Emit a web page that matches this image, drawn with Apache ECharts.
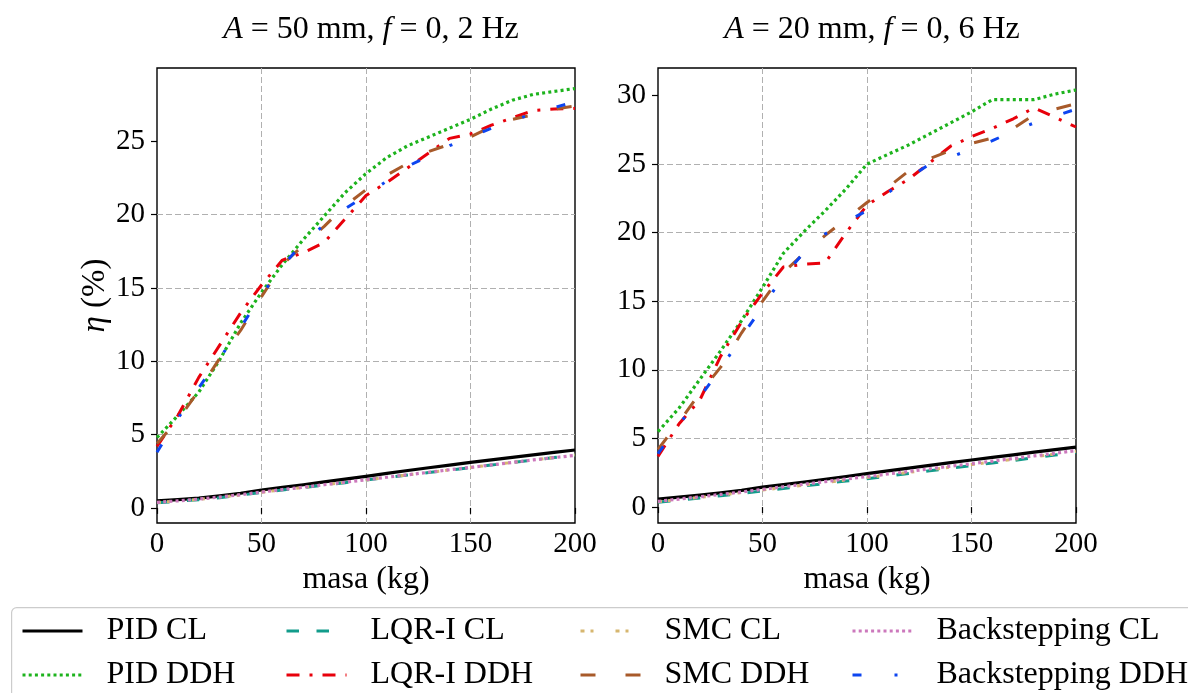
<!DOCTYPE html>
<html><head><meta charset="utf-8">
<script src="https://cdn.jsdelivr.net/npm/echarts@6/dist/echarts.min.js"></script>
<style>html,body{margin:0;padding:0;background:#fff}#c{width:1188px;height:693px}</style>
</head><body><div id="c"></div>
<script>
// ---------- data ----------
const masa = [0,10,20,30,40,50,60,70,80,90,100,110,120,130,140,150,160,170,180,190,200];
const seriesNames = ['PID CL','PID DDH','LQR-I CL','LQR-I DDH','SMC CL','SMC DDH','Backstepping CL','Backstepping DDH'];
const xTicks = [0,50,100,150,200];
const yTicksL = [0,5,10,15,20,25];
const yTicksR = [0,5,10,15,20,25,30];

// Left panel: A = 50 mm, f = 0,2 Hz
const pidCL_L  = [0.48,0.56,0.67,0.82,1.0,1.22,1.4,1.58,1.77,1.96,2.15,2.35,2.55,2.74,2.92,3.1,3.28,3.45,3.62,3.79,3.95];
const pidDDH_L = [4.8,6.3,7.9,10.1,12.6,14.7,16.6,18.3,19.9,21.5,22.8,23.9,24.7,25.3,25.9,26.5,27.2,27.8,28.2,28.4,28.6];
const lqrCL_L  = [0.35,0.45,0.56,0.7,0.87,1.05,1.22,1.38,1.55,1.72,1.9,2.07,2.24,2.41,2.58,2.75,2.92,3.09,3.26,3.43,3.6];
const lqrDDH_L = [4.2,6.3,8.9,11.1,13.3,15.2,16.9,17.4,18.1,19.7,21.3,22.2,23.2,24.2,25.2,25.5,26.1,26.6,27.1,27.2,27.25];
const smcCL_L  = [0.37,0.47,0.58,0.72,0.88,1.07,1.24,1.4,1.57,1.74,1.91,2.08,2.25,2.42,2.59,2.76,2.93,3.1,3.27,3.44,3.61];
const smcDDH_L = [4.4,6.0,8.0,10.2,12.1,14.4,16.6,17.9,19.2,20.6,21.7,22.7,23.5,24.3,24.8,25.3,26.0,26.5,26.8,27.2,27.4];
const backCL_L = [0.38,0.48,0.6,0.74,0.9,1.08,1.25,1.41,1.58,1.75,1.92,2.09,2.26,2.43,2.6,2.76,2.93,3.1,3.27,3.43,3.58];
const backDDH_L= [3.8,6.1,8.2,10.2,12.3,14.5,16.5,18.1,19.3,20.4,21.3,22.3,23.3,24.0,24.7,25.3,25.9,26.4,26.9,27.3,27.7];

// Right panel: A = 20 mm, f = 0,6 Hz
const pidCL_R  = [0.58,0.72,0.87,1.03,1.22,1.45,1.64,1.83,2.03,2.23,2.44,2.64,2.84,3.04,3.24,3.43,3.62,3.81,4.0,4.19,4.37];
const pidDDH_R = [5.5,7.2,9.3,11.4,13.6,16.0,18.5,20.1,21.6,23.2,25.0,25.7,26.4,27.2,28.0,28.8,29.7,29.7,29.7,30.1,30.4];
const lqrCL_R  = [0.35,0.5,0.66,0.83,1.0,1.18,1.36,1.54,1.72,1.9,2.07,2.26,2.45,2.64,2.83,3.02,3.21,3.4,3.59,3.79,3.98];
const lqrDDH_R = [3.7,6.05,7.8,11.0,13.5,15.6,17.5,17.7,17.8,20.0,22.0,23.0,23.9,25.1,26.3,27.0,27.6,28.3,29.1,28.4,27.7];
const smcCL_R  = [0.39,0.55,0.71,0.88,1.05,1.24,1.42,1.6,1.79,1.98,2.15,2.34,2.53,2.72,2.91,3.1,3.29,3.48,3.67,3.87,4.06];
const smcDDH_R = [4.2,6.2,8.3,10.2,12.7,15.0,17.1,18.5,19.8,21.0,22.2,23.3,24.5,25.4,26.0,26.5,26.9,27.6,28.6,29.0,29.4];
const backCL_R = [0.42,0.58,0.75,0.92,1.1,1.29,1.48,1.67,1.86,2.05,2.22,2.41,2.6,2.79,2.98,3.16,3.35,3.54,3.73,3.92,4.12];
const backDDH_R= [3.9,6.0,8.0,10.1,12.4,14.6,16.8,18.6,19.9,20.8,21.6,22.9,24.0,25.0,25.5,26.1,26.7,27.4,28.0,28.5,29.0];

const leftSets  = [pidCL_L,pidDDH_L,lqrCL_L,lqrDDH_L,smcCL_L,smcDDH_L,backCL_L,backDDH_L];
const rightSets = [pidCL_R,pidDDH_R,lqrCL_R,lqrDDH_R,smcCL_R,smcDDH_R,backCL_R,backDDH_R];

// ---------- styles ----------
const FONT = 'Liberation Serif';
const styles = [
  {color:'#000000', width:3.2, type:'solid'},
  {color:'#1db31d', width:3.2, type:[3,3.2]},
  {color:'#129c8b', width:3,   type:[12.5,17.5]},
  {color:'#e8000b', width:3,   type:[13,10,3,10]},
  {color:'#d6b66f', width:3,   type:[4,6,3,22]},
  {color:'#a85a2a', width:3,   type:[15,30]},
  {color:'#cc78bc', width:3.2, type:[3,3.2]},
  {color:'#0d45f0', width:3,   type:[9,33,3,33]}
];

const gridCol = '#b0b0b0';
function xAxisCfg(gi){
  return {type:'value', gridIndex:gi, min:0, max:200, interval:50,
    name:'masa (kg)', nameLocation:'middle', nameGap:41,
    nameTextStyle:{fontFamily:FONT, fontSize:32, color:'#000'},
    axisLine:{show:false},
    axisTick:{show:true, inside:false, length:6, lineStyle:{color:'#000', width:1.2}},
    axisLabel:{fontFamily:FONT, fontSize:29, color:'#000', margin:7},
    splitLine:{show:true, showMinLine:false, showMaxLine:false, lineStyle:{color:gridCol, width:1, type:[6,3]}}
  };
}
function yAxisCfg(gi, mn, mx, ticks, withName){
  const a = {type:'value', gridIndex:gi, min:mn, max:mx, splitNumber:6,
    axisLine:{show:false},
    axisTick:{show:true, inside:false, length:6, customValues:ticks, lineStyle:{color:'#000', width:1.2}},
    axisLabel:{fontFamily:FONT, fontSize:29, color:'#000', margin:12, customValues:ticks},
    splitLine:{show:true, showMinLine:false, showMaxLine:false, lineStyle:{color:gridCol, width:1, type:[6,3]}}
  };
  if (withName){
    a.name = '{i|η} (%)';
    a.nameLocation = 'middle';
    a.nameGap = 44;
    a.nameTextStyle = {fontFamily:FONT, fontSize:33, color:'#000',
      rich:{i:{fontFamily:FONT, fontSize:33, fontStyle:'italic', color:'#000'}}};
  }
  return a;
}

const series = [];
[leftSets, rightSets].forEach((sets, gi) => {
  sets.forEach((arr, k) => {
    series.push({
      type:'line', name:seriesNames[k], xAxisIndex:gi, yAxisIndex:gi,
      data: masa.map((m,i)=>[m, arr[i]]),
      symbol:'none', showSymbol:false, smooth:false, animation:false,
      lineStyle:{color:styles[k].color, width:styles[k].width, type:styles[k].type, cap:'butt', join:'round'},
      itemStyle:{color:styles[k].color},
      emphasis:{disabled:true}, z: 2 + k
    });
  });
});

const titleRich = {i:{fontFamily:FONT, fontSize:32, fontStyle:'italic', color:'#000'}};
const legendCols = [21, 285, 579, 851];
const legends = legendCols.map((x, c) => ({
  orient:'vertical', left:x, top:615, padding:0, itemWidth:60, itemHeight:30, itemGap:12,
  selectedMode:false,
  itemStyle:{opacity:0, borderWidth:0},
  lineStyle:{width:3},
  data:[seriesNames[2*c], seriesNames[2*c+1]],
  textStyle:{fontFamily:FONT, fontSize:32, color:'#000', lineHeight:30, padding:[0,0,0,19]}
}));

const chart = echarts.init(document.getElementById('c'), null, {renderer:'canvas'});
chart.setOption({
  backgroundColor:'#ffffff',
  animation:false,
  title:[
    {text:'{i|A} = 50 mm, {i|f} = 0, 2 Hz', left:366, top:9, textAlign:'center',
     textStyle:{fontFamily:FONT, fontSize:32, fontWeight:'normal', color:'#000', rich:titleRich}},
    {text:'{i|A} = 20 mm, {i|f} = 0, 6 Hz', left:867, top:9, textAlign:'center',
     textStyle:{fontFamily:FONT, fontSize:32, fontWeight:'normal', color:'#000', rich:titleRich}}
  ],
  graphic:[{type:'rect', left:11, top:607, z:0,
    shape:{width:1200, height:100, r:5},
    style:{fill:'#ffffff', stroke:'#cccccc', lineWidth:1.2}}],
  grid:[
    {left:157, top:68, width:418, height:455, show:true, borderColor:'#000', borderWidth:1.4, backgroundColor:'rgba(0,0,0,0)', containLabel:false},
    {left:658, top:68, width:418, height:455, show:true, borderColor:'#000', borderWidth:1.4, backgroundColor:'rgba(0,0,0,0)', containLabel:false}
  ],
  xAxis:[xAxisCfg(0), xAxisCfg(1)],
  yAxis:[yAxisCfg(0, -1.03, 30.0, yTicksL, true), yAxisCfg(1, -1.16, 32.0, yTicksR, false)],
  legend: legends,
  series: series
});
</script></body></html>
